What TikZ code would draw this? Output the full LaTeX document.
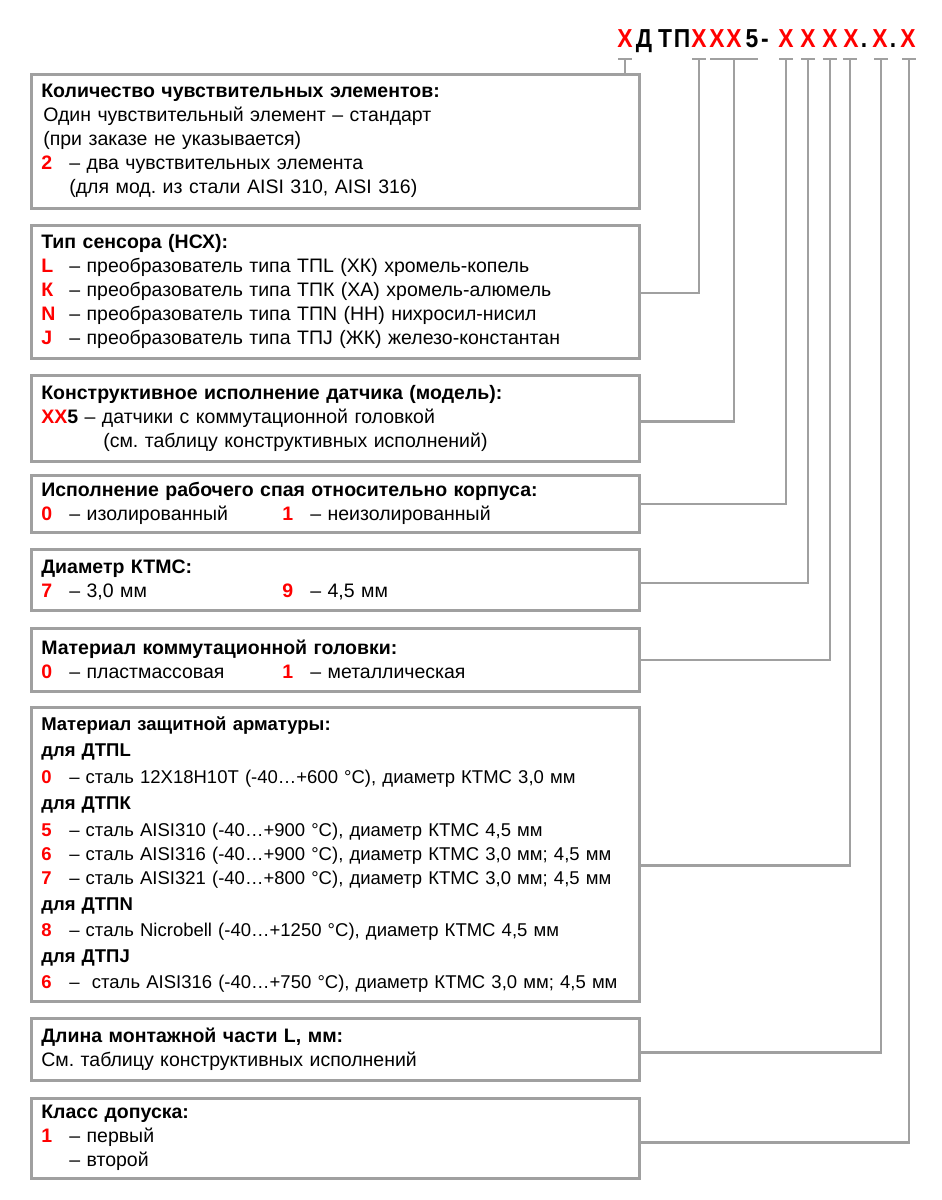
\documentclass[tikz,border=0pt]{standalone}
\usepackage{fontspec}
\setmainfont{Liberation Sans}
\usetikzlibrary{calc}
\frenchspacing

\definecolor{codered}{RGB}{255,0,0}
\definecolor{framegray}{RGB}{160,160,160}
% red option code, fixed width so the dashes line up
\newcommand{\code}[1]{\makebox[28pt][l]{\textcolor{codered}{\bfseries #1}}}

\begin{document}
\begin{tikzpicture}[x=1pt, y=-1pt,
  box/.style={draw=framegray, line width=2.6pt, anchor=north west,
    minimum width=608pt, text width=588pt, inner xsep=10pt, inner ysep=0pt,
    align=left, font=\fontsize{19.5}{24}\selectfont},
  wire/.style={draw=framegray, line width=2.6pt},
  chr/.style={anchor=base, inner sep=0pt, font=\fontsize{26}{26}\selectfont\bfseries}]
  \useasboundingbox (0,0) rectangle (942,1200);

  % Order code
  \foreach \x/\c/\col [count=\i] in {625/Х/codered, 644/Д/black, 665/Т/black,
      682/П/black, 699/Х/codered, 717/Х/codered, 734/Х/codered, 752/5/black,
      765/-/black, 786/Х/codered, 808/Х/codered, 830/Х/codered, 851/Х/codered,
      864/./black, 880/Х/codered, 893/./black, 908/Х/codered}
    \node[chr, text=\col] (h\i) at (\x,47) {\scalebox{0.88}[1]{\c}};

  % Ticks under the code
  \foreach \x [count=\i] in {625,699,734,786,808,830,850,881,909}
    \coordinate (t\i) at (\x,59);
  \foreach \i in {1,2,4,5,6,7,8,9}
    \draw[wire] ([xshift=-7pt]t\i) -- ([xshift=7pt]t\i);
  \draw[wire] ([xshift=-24pt]t3) -- ([xshift=24pt]t3);

  % Number of sensing elements
  \node[box, minimum height=134pt] (b1) at (30,73) {%
    \textbf{Количество чувствительных элементов:}\\
    \hspace*{2pt}Один чувствительный элемент – стандарт\\
    \hspace*{2pt}(при заказе не указывается)\\
    \code{2}– два чувствительных элемента\\
    \hspace*{28pt}(для мод. из стали AISI 310, AISI 316)};

  % Sensor type
  \node[box, minimum height=133pt] (b2) at (30,224) {%
    \textbf{Тип сенсора (НСХ):}\\
    \code{L}– преобразователь типа ТПL (ХК) хромель-копель\\
    \code{К}– преобразователь типа ТПК (ХА) хромель-алюмель\\
    \code{N}– преобразователь типа ТПN (НН) нихросил-нисил\\
    \code{J}– преобразователь типа ТПJ (ЖК) железо-константан};

  % Model
  \node[box, minimum height=86pt] (b3) at (30,374) {%
    \textbf{Конструктивное исполнение датчика (модель):}\\
    \textcolor{codered}{\bfseries ХХ}\textbf{5} – датчики с коммутационной головкой\\
    \hspace*{62pt}(см. таблицу конструктивных исполнений)};

  % Junction
  \node[box, minimum height=57pt] (b4) at (30,474) {%
    \textbf{Исполнение рабочего спая относительно корпуса:}\\
    \makebox[241pt][l]{\code{0}– изолированный}\code{1}– неизолированный};

  % Cable diameter
  \node[box, minimum height=61pt] (b5) at (30,548) {%
    \textbf{Диаметр КТМС:}\\
    \makebox[241pt][l]{\code{7}– 3,0 мм}\code{9}– 4,5 мм};

  % Head material
  \node[box, minimum height=63pt] (b6) at (30,627) {%
    \textbf{Материал коммутационной головки:}\\
    \makebox[241pt][l]{\code{0}– пластмассовая}\code{1}– металлическая};

  % Sheath material
  \node[box, minimum height=294pt, font=\fontsize{18.5}{24}\selectfont] (b7) at (30,706) {%
    \textbf{Материал защитной арматуры:}\\[2pt]
    \textbf{для ДТПL}\\[3pt]
    \code{0}– сталь 12Х18Н10Т (-40…+600 °С), диаметр КТМС 3,0 мм\\[2pt]
    \textbf{для ДТПК}\\[3pt]
    \code{5}– сталь AISI310 (-40…+900 °С), диаметр КТМС 4,5 мм\\
    \code{6}– сталь AISI316 (-40…+900 °С), диаметр КТМС 3,0 мм; 4,5 мм\\
    \code{7}– сталь AISI321 (-40…+800 °С), диаметр КТМС 3,0 мм; 4,5 мм\\[2pt]
    \textbf{для ДТПN}\\[2pt]
    \code{8}– сталь Nicrobell (-40…+1250 °С), диаметр КТМС 4,5 мм\\[2pt]
    \textbf{для ДТПJ}\\[2pt]
    \code{6}– \ сталь AISI316 (-40…+750 °С), диаметр КТМС 3,0 мм; 4,5 мм};

  % Length
  \node[box, minimum height=62pt] (b8) at (30,1017) {%
    \textbf{Длина монтажной части L, мм:}\\
    См. таблицу конструктивных исполнений};

  % Tolerance class
  \node[box, minimum height=80pt] (b9) at (30,1097) {%
    \textbf{Класс допуска:}\\
    \code{1}– первый\\
    \code{}– второй};

  % Leaders
  \draw[wire] (t1) -- (t1 |- b1.north);
  \draw[wire] ([yshift=-1pt]b2.east) -| (t2);
  \draw[wire] ([yshift=-3pt]b3.east) -| (t3);
  \draw[wire] (b4.east) -| (t4);
  \draw[wire] ([yshift=-3pt]b5.east) -| (t5);
  \draw[wire] (b6.east) -| (t6);
  \draw[wire] ([yshift=-11pt]b7.east) -| (t7);
  \draw[wire] ([yshift=-3pt]b8.east) -| (t8);
  \draw[wire] ([yshift=-4pt]b9.east) -| (t9);
\end{tikzpicture}
\end{document}
